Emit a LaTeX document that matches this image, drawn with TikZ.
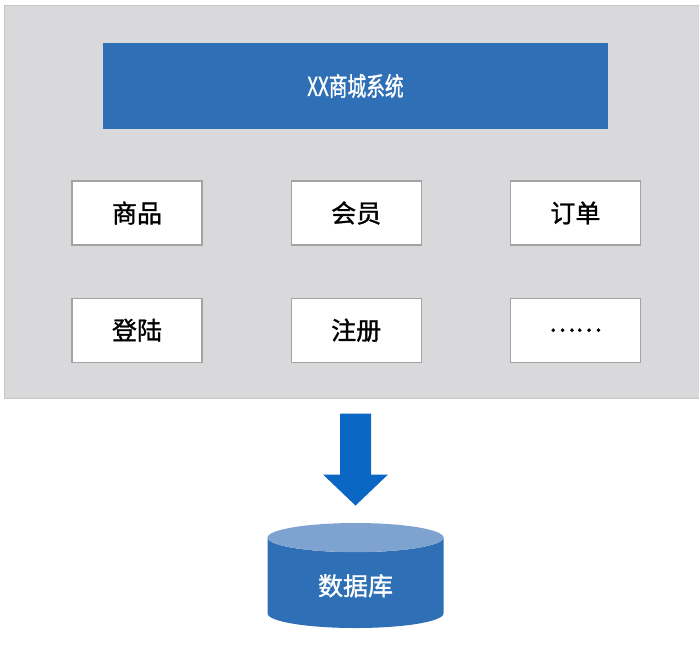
\documentclass[tikz,border=0pt]{standalone}
\usepackage{fontspec}
\setmainfont{Noto Sans CJK SC}[FakeBold=1.2]
\usepackage{tikz}
\usetikzlibrary{shapes.geometric, arrows.meta, positioning, backgrounds}
\definecolor{mallblue}{HTML}{2E6FB5}
\definecolor{arrowblue}{HTML}{0A67C3}
\definecolor{dbtop}{HTML}{7EA3D0}
\definecolor{panelgray}{HTML}{D9D9DB}
\definecolor{boxline}{HTML}{A3A3A3}

\begin{document}
\begin{tikzpicture}[
    x=0.5pt, y=-0.5pt,
    node distance=26pt and 44pt,
    title/.style={rectangle, fill=mallblue, text=white, minimum width=252.5pt, minimum height=43pt, font=\fontsize{13}{15}\selectfont},
    module/.style={rectangle, draw=boxline, fill=white, line width=0.6pt, minimum width=65pt, minimum height=32pt, font=\fontsize{12.5}{14}\selectfont},
    panel/.style={rectangle, fill=panelgray, draw=gray!45, line width=0.5pt, minimum width=349.5pt, minimum height=196.5pt, inner sep=0pt},
    store/.style={cylinder, shape border rotate=90, aspect=0.33, cylinder uses custom fill, cylinder body fill=mallblue, cylinder end fill=dbtop, text=white, minimum width=88pt, minimum height=52.5pt, font=\fontsize{12.5}{14}\selectfont},
    bigarrow/.style={arrowblue, line width=15.5pt, -{Triangle[width=31.5pt, length=15.5pt]}, shorten <=7.5pt, shorten >=8.5pt}
]
\useasboundingbox (0,0) rectangle (699,654);

\node[title] (mall) at (355.5,86) {\scalebox{0.72}[1]{XX商城系统}};

\node[module] (goods) at (137,213) {商品};
\node[module, right=of goods] (member) {会员};
\node[module, right=of member] (order) {订单};
\node[module, below=of goods] (login) {登陆};
\node[module, right=of login] (register) {注册};
\node[module, right=of register] (more) {……};

\begin{scope}[on background layer]
    \node[panel] (panel) at (353.5,201.5) {};
\end{scope}

\node[store, anchor=shape center] (db) at (355.5,575.5) {数据库};

\draw[bigarrow] (panel.south -| db.center) -- (db);

\end{tikzpicture}
\end{document}
